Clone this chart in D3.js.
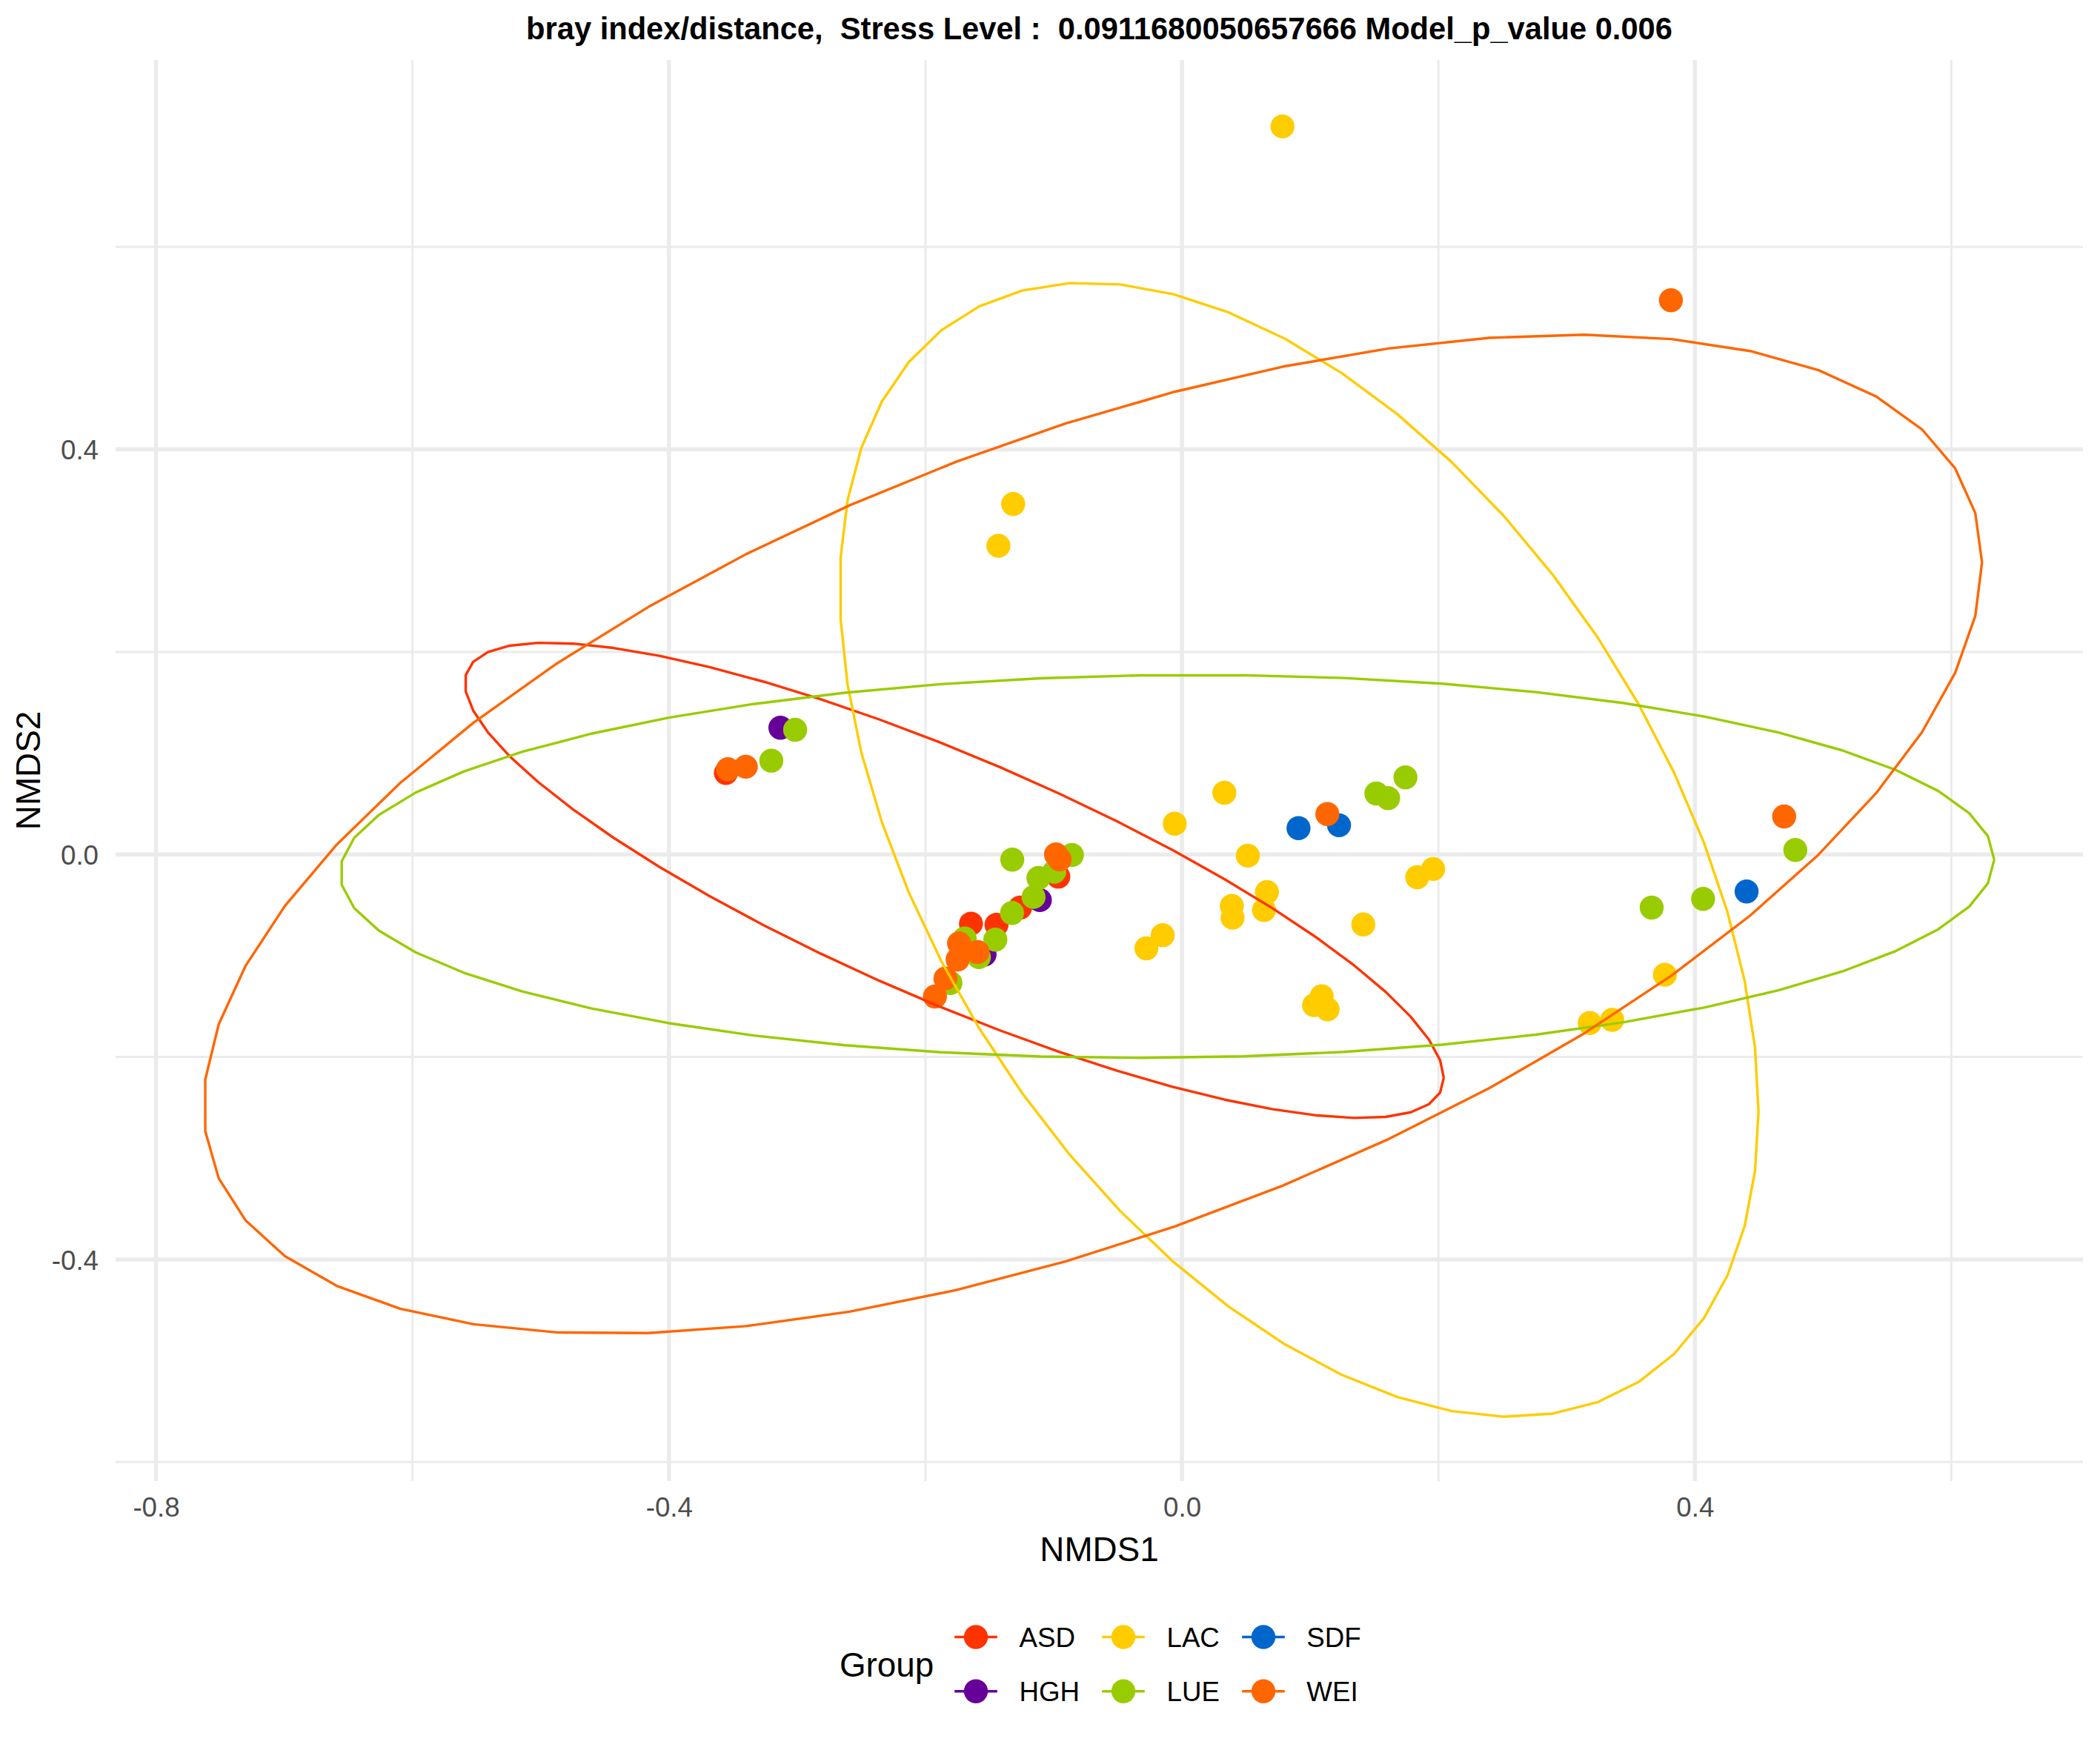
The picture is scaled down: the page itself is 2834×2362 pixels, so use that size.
<!DOCTYPE html>
<html>
<head>
<meta charset="utf-8">
<script src="https://cdn.jsdelivr.net/npm/d3@7"></script>
<style>
  html, body { margin: 0; padding: 0; background: #fff; }
  text { font-family: "Liberation Sans", Arial, sans-serif; }
</style>
</head>
<body>
<svg id="chart" width="2834" height="2362"></svg>
<script>
// ---------------- data ----------------
const titleText = "bray index/distance,  Stress Level :  0.0911680050657666 Model_p_value 0.006";
const xTitle = "NMDS1";
const yTitle = "NMDS2";
const legendTitle = "Group";

const groups = ["ASD", "HGH", "LAC", "LUE", "SDF", "WEI"];
const groupColors = ["#FF3300", "#660099", "#FFCC00", "#99CC00", "#0066CC", "#FF6600"];

const xDomain = [-0.8315, 0.7026];
const yDomain = [-0.6188, 0.7845];
const xMajorTicks = [-0.8, -0.4, 0.0, 0.4];
const xMinorTicks = [-0.6, -0.2, 0.2, 0.6];
const yMajorTicks = [-0.4, 0.0, 0.4];
const yMinorTicks = [-0.6, -0.2, 0.2, 0.6];

// NMDS scores per group [NMDS1, NMDS2]
const ptsASD = [[-0.3556, 0.0805], [-0.0964, -0.0219], [-0.1262, -0.0525], [-0.1645, -0.0683], [-0.1446, -0.0695]];
const ptsHGH = [[-0.3131, 0.1251], [-0.1108, -0.0451], [-0.1539, -0.0988]];
const ptsLAC = [[0.0784, 0.7189], [-0.1316, 0.3461], [-0.1431, 0.3048], [-0.0056, 0.0304], [0.0331, 0.0609],
                [0.0514, -0.0012], [0.0663, -0.0371], [0.0389, -0.0508], [0.0395, -0.0625], [0.0640, -0.0549],
                [-0.0150, -0.0797], [-0.0277, -0.0927], [0.1414, -0.0691], [0.1835, -0.0225], [0.1959, -0.0144],
                [0.1090, -0.1400], [0.1030, -0.1488], [0.1136, -0.1529], [0.3766, -0.1188], [0.3355, -0.1634],
                [0.3180, -0.1665]];
const ptsLUE = [[-0.3016, 0.1231], [-0.3202, 0.0926], [-0.1323, -0.0051], [-0.0858, -0.0005], [-0.0996, -0.0171],
                [-0.1119, -0.0232], [-0.1157, -0.0420], [-0.1325, -0.0578], [-0.1455, -0.0841], [-0.1694, -0.0830],
                [-0.1583, -0.1013], [-0.1805, -0.1269], [0.1516, 0.0602], [0.1608, 0.0556], [0.1743, 0.0761],
                [0.4783, 0.0044], [0.4064, -0.0439], [0.3663, -0.0525]];
const ptsSDF = [[0.0909, 0.0260], [0.1225, 0.0288], [0.4403, -0.0366]];
const ptsWEI = [[0.3813, 0.5473], [0.4696, 0.0375], [0.1134, 0.0399], [-0.3540, 0.0841], [-0.3401, 0.0866],
                [-0.0982, 0.0000], [-0.0954, -0.0049], [-0.1738, -0.0878], [-0.1594, -0.0964], [-0.1749, -0.1037],
                [-0.1844, -0.1225], [-0.1926, -0.1403]];
const groupPoints = [ptsASD, ptsHGH, ptsLAC, ptsLUE, ptsSDF, ptsWEI];

// confidence ellipses (stat_ellipse): centre, half-extent in x and y, cos(phase) linking x and y
const ellipseGroups  = ["ASD", "LAC", "LUE", "WEI"];
const ellipseCx      = [-0.1775, 0.0914, -0.0115, -0.0695];
const ellipseCy      = [-0.0256, 0.0047, -0.0118, 0.0200];
const ellipseRx      = [0.3817, 0.3582, 0.6449, 0.6934];
const ellipseRy      = [0.2347, 0.5600, 0.1891, 0.4933];
const ellipseCosPh   = [-0.831, -0.4616, 0.035, 0.544];
const ellipseSegments = 51;

// ---------------- layout ----------------
const W = 2834, H = 2362;
const panel = { left: 156, right: 2811, top: 81, bottom: 1999 };
const svg = d3.select("#chart");
svg.append("rect").attr("width", W).attr("height", H).attr("fill", "#fff");

const x = d3.scaleLinear().domain(xDomain).range([panel.left, panel.right]);
const y = d3.scaleLinear().domain(yDomain).range([panel.bottom, panel.top]);
const fmt = d3.formatLocale({ decimal: ".", thousands: ",", grouping: [3], currency: ["", ""], minus: "-" }).format(".1f");

const gridCol = "#EBEBEB";
const majorW = 5.5, minorW = 3;

const grid = svg.append("g");
// minor grid
grid.selectAll(".yminor").data(yMinorTicks).join("line")
  .attr("x1", panel.left).attr("x2", panel.right)
  .attr("y1", d => y(d)).attr("y2", d => y(d))
  .attr("stroke", gridCol).attr("stroke-width", minorW);
grid.selectAll(".xminor").data(xMinorTicks).join("line")
  .attr("y1", panel.top).attr("y2", panel.bottom)
  .attr("x1", d => x(d)).attr("x2", d => x(d))
  .attr("stroke", gridCol).attr("stroke-width", minorW);
// major grid
grid.append("g").selectAll("line").data(yMajorTicks).join("line")
  .attr("x1", panel.left).attr("x2", panel.right)
  .attr("y1", d => y(d)).attr("y2", d => y(d))
  .attr("stroke", gridCol).attr("stroke-width", majorW);
grid.append("g").selectAll("line").data(xMajorTicks).join("line")
  .attr("y1", panel.top).attr("y2", panel.bottom)
  .attr("x1", d => x(d)).attr("x2", d => x(d))
  .attr("stroke", gridCol).attr("stroke-width", majorW);

// axes via d3 axis generators (ticks hidden like theme_minimal)
const tickFont = 36.7;
const xAxis = d3.axisBottom(x).tickValues(xMajorTicks).tickFormat(fmt).tickSize(0).tickPadding(0);
const gx = svg.append("g").attr("transform", `translate(0,${panel.bottom})`).call(xAxis);
gx.select(".domain").remove();
gx.selectAll("text").attr("dy", null).attr("y", 47.5)
  .attr("font-size", tickFont).attr("fill", "#4D4D4D")
  .attr("font-family", "'Liberation Sans', Arial, sans-serif");

const yAxis = d3.axisLeft(y).tickValues(yMajorTicks).tickFormat(fmt).tickSize(0).tickPadding(0);
const gy = svg.append("g").attr("transform", `translate(${panel.left},0)`).call(yAxis);
gy.select(".domain").remove();
gy.selectAll("text").attr("dy", null).attr("x", -23).attr("y", 13.2)
  .attr("font-size", tickFont).attr("fill", "#4D4D4D").attr("text-anchor", "end")
  .attr("font-family", "'Liberation Sans', Arial, sans-serif");

// axis titles
const cx = (panel.left + panel.right) / 2;
const cy = (panel.top + panel.bottom) / 2;
svg.append("text").attr("x", cx).attr("y", 2107).attr("text-anchor", "middle")
  .attr("font-size", 45.8).attr("fill", "#000").text(xTitle);
svg.append("text").attr("transform", `translate(53.5,${cy}) rotate(-90)`).attr("text-anchor", "middle")
  .attr("font-size", 45.8).attr("fill", "#000").text(yTitle);

// title
svg.append("text").attr("x", cx).attr("y", 53).attr("text-anchor", "middle")
  .attr("font-size", 41.67).attr("font-weight", "bold").attr("fill", "#000")
  .style("white-space", "pre").text(titleText);

// points
const R = 16.2;
const ptsLayer = svg.append("g");
groups.forEach((g, i) => {
  ptsLayer.append("g").selectAll("circle").data(groupPoints[i]).join("circle")
    .attr("cx", d => x(d[0])).attr("cy", d => y(d[1])).attr("r", R)
    .attr("fill", groupColors[i]);
});

// ellipses
const line = d3.line().x(d => x(d[0])).y(d => y(d[1]));
const ellLayer = svg.append("g");
ellipseGroups.forEach((g, i) => {
  const delta = Math.acos(ellipseCosPh[i]);
  const verts = d3.range(ellipseSegments + 1).map(k => {
    const t = 2 * Math.PI * k / ellipseSegments;
    return [ellipseCx[i] + ellipseRx[i] * Math.cos(t), ellipseCy[i] + ellipseRy[i] * Math.cos(t - delta)];
  });
  ellLayer.append("path").attr("d", line(verts)).attr("fill", "none")
    .attr("stroke", groupColors[groups.indexOf(g)]).attr("stroke-width", 3.4)
    .attr("stroke-linejoin", "round");
});

// legend
const leg = svg.append("g");
leg.append("text").attr("x", 1133).attr("y", 2262.5).attr("font-size", 45.8).attr("fill", "#000").text(legendTitle);
const colKeyX = [1317, 1516, 1705];
const colLabX = [1375.5, 1574.5, 1763.3];
const rowY = [2209.5, 2282.7];
groups.forEach((g, i) => {
  const c = Math.floor(i / 2), r = i % 2;
  const kx = colKeyX[c], ky = rowY[r];
  leg.append("line").attr("x1", kx - 28.8).attr("x2", kx + 28.8).attr("y1", ky).attr("y2", ky)
    .attr("stroke", groupColors[i]).attr("stroke-width", 3.4);
  leg.append("circle").attr("cx", kx).attr("cy", ky).attr("r", R).attr("fill", groupColors[i]);
  leg.append("text").attr("x", colLabX[c]).attr("y", ky + 13.1).attr("font-size", tickFont)
    .attr("fill", "#000").text(g);
});
</script>
</body>
</html>
